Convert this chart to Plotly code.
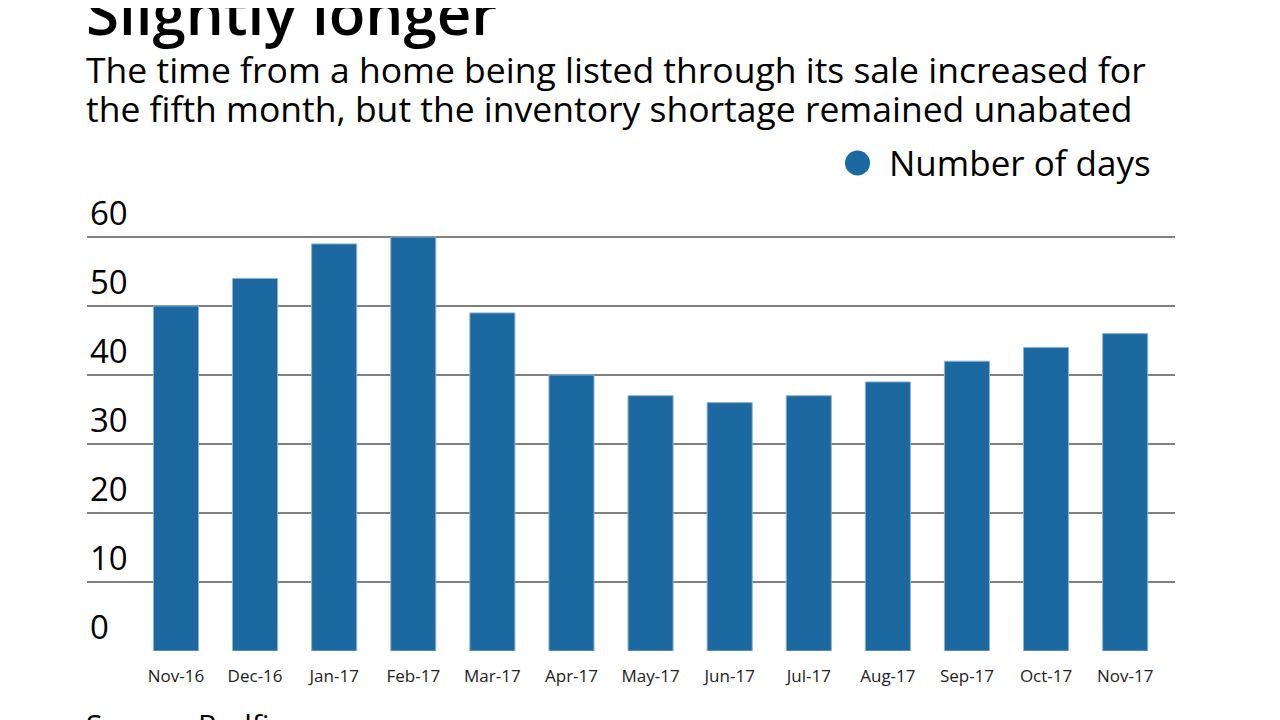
import plotly.graph_objects as go

months = ["Nov-16", "Dec-16", "Jan-17", "Feb-17", "Mar-17", "Apr-17", "May-17",
          "Jun-17", "Jul-17", "Aug-17", "Sep-17", "Oct-17", "Nov-17"]
days = [50, 54, 59, 60, 49, 40, 37, 36, 37, 39, 42, 44, 46]
series_name = "Number of days"
y_ticks = [0, 10, 20, 30, 40, 50, 60]

title = "Slightly longer"
subtitle1 = "The time from a home being listed through its sale increased for"
subtitle2 = "the fifth month, but the inventory shortage remained unabated"
source = "Source: Redfin"

BAR = "#1b69a0"
FONT = "Open Sans"

OFF = 8  # page body margin
W, H = 1280 - OFF, 720 - OFF
YMAX = 70
# target screen pixels
L_s, R_s, Y60_s, B_s = 87, 1175, 237, 651
ppu = (B_s - Y60_s) / 60.0
T_s = B_s - YMAX * ppu
L, R, T, B = L_s - OFF, R_s - OFF, T_s - OFF, B_s - OFF

def py(ys):
    y = ys - OFF
    return (B - y) / (B - T)

def px(xs):
    x = xs - OFF
    return (x - L) / (R - L)

fig = go.Figure()
fig.add_trace(go.Bar(x=months, y=days, name=series_name, marker_color=BAR,
                     marker_line=dict(color="#8fb3d0", width=1),
                     width=0.57, showlegend=False))

fig.update_layout(
    width=W, height=H,
    margin=dict(l=L, r=W - R, t=T, b=H - B, autoexpand=False),
    paper_bgcolor="white", plot_bgcolor="white",
    font=dict(family=FONT, color="black"),
    showlegend=False,
    xaxis=dict(type="category", range=[-1.125, 12.63], showgrid=False,
               showline=False, zeroline=False, ticks="",
               tickfont=dict(size=17, color="#222", family=FONT),
               ticklabelstandoff=13),
    yaxis=dict(range=[0, YMAX], tickvals=y_ticks, showgrid=True,
               gridcolor="#808080", gridwidth=2, zeroline=False, showline=False,
               ticklabelposition="inside top", ticks="",
               tickfont=dict(size=33, color="black", family=FONT)),
    shapes=[
        dict(type="circle", xref="paper", yref="paper",
             x0=px(845), x1=px(870), y0=py(175.5), y1=py(150.5),
             fillcolor=BAR, line=dict(width=0)),
    ],
    annotations=[
        dict(text=title, xref="paper", yref="paper",
             x=px(84), y=py(55), xanchor="left", yanchor="bottom",
             showarrow=False, font=dict(size=60, family=FONT, color="black", weight=600)),
        dict(text=subtitle1, xref="paper", yref="paper",
             x=px(84), y=py(95), xanchor="left", yanchor="bottom",
             showarrow=False, font=dict(size=35.5, family=FONT, color="black")),
        dict(text=subtitle2, xref="paper", yref="paper",
             x=px(84), y=py(134), xanchor="left", yanchor="bottom",
             showarrow=False, font=dict(size=35.5, family=FONT, color="black")),
        dict(text=series_name, xref="paper", yref="paper",
             x=px(887), y=py(162), xanchor="left", yanchor="middle",
             showarrow=False, font=dict(size=35, family=FONT, color="black")),
        dict(text=source, xref="paper", yref="paper",
             x=px(84), y=py(702), xanchor="left", yanchor="top",
             showarrow=False, font=dict(size=30, family=FONT, color="black")),
    ],
)

fig.write_html("out.html")
